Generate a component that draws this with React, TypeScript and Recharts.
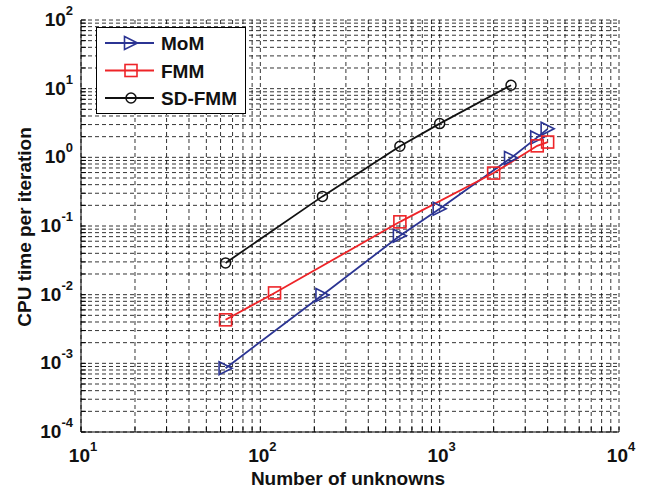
import { LineChart, Line, XAxis, YAxis, CartesianGrid, Legend } from 'recharts'

// CPU time per iteration vs number of unknowns
const MOM = [
  { x: 64, y: 0.00085 },
  { x: 222, y: 0.0099 },
  { x: 600, y: 0.072 },
  { x: 1000, y: 0.178 },
  { x: 2500, y: 0.98 },
  { x: 3500, y: 1.95 },
  { x: 4000, y: 2.6 },
]
const FMM = [
  { x: 64, y: 0.0043 },
  { x: 120, y: 0.0106 },
  { x: 600, y: 0.115 },
  { x: 2000, y: 0.59 },
  { x: 3500, y: 1.47 },
  { x: 4000, y: 1.67 },
]
const SD_FMM = [
  { x: 64, y: 0.029 },
  { x: 222, y: 0.27 },
  { x: 600, y: 1.45 },
  { x: 1000, y: 3.1 },
  { x: 2500, y: 11.2 },
]

const X_DECADES = [10, 100, 1000, 10000]
const Y_DECADES = [1e-4, 1e-3, 1e-2, 1e-1, 1, 10, 100]
const MINOR_STEPS = [1, 2, 3, 4, 5, 6, 7, 8, 9]

const FONT = '"Liberation Sans", Arial, Helvetica, sans-serif'
const BLUE = '#2b3493'
const RED = '#ee2428'
const BLACK = '#111111'

function withMinor(decades: number[]) {
  const out: number[] = []
  decades.forEach((d, i) => {
    if (i === decades.length - 1) {
      out.push(d)
      return
    }
    MINOR_STEPS.forEach((m) => out.push(Number((d * m).toPrecision(6))))
  })
  return out
}

const X_TICKS = withMinor(X_DECADES)
const Y_TICKS = withMinor(Y_DECADES)

function decadeExp(v: number) {
  const l = Math.log10(v)
  const e = Math.round(l)
  return Math.abs(l - e) < 1e-6 ? e : null
}

function XTick({ x, y, payload }: any) {
  const e = decadeExp(payload.value)
  if (e === null) return <g />
  return (
    <text x={x + 2} y={y + 33} textAnchor="middle" fontFamily={FONT} fontWeight="bold" fontSize={19} fill="#111">
      10<tspan dy={-11} fontSize={13}>{e}</tspan>
    </text>
  )
}

function YTick({ x, y, payload }: any) {
  const e = decadeExp(payload.value)
  if (e === null) return <g />
  return (
    <text x={x - 11} y={y + 6} textAnchor="end" fontFamily={FONT} fontWeight="bold" fontSize={19} fill="#111">
      10<tspan dy={-11} fontSize={13}>{e}</tspan>
    </text>
  )
}

function EmptyTick() {
  return <g />
}

function Marker({ shape, cx, cy, color }: { shape: string; cx: number; cy: number; color: string }) {
  if (shape === 'tri') {
    const s = 6.5
    return <polygon points={`${cx - s},${cy - s} ${cx + s},${cy} ${cx - s},${cy + s}`} fill="none" stroke={color} strokeWidth={1.6} />
  }
  if (shape === 'square') {
    const s = 6
    return <rect x={cx - s} y={cy - s} width={2 * s} height={2 * s} fill="none" stroke={color} strokeWidth={1.6} />
  }
  return <circle cx={cx} cy={cy} r={5} fill="none" stroke={color} strokeWidth={1.5} />
}

const SERIES = [
  { name: 'MoM', data: MOM, color: BLUE, shape: 'tri' },
  { name: 'FMM', data: FMM, color: RED, shape: 'square' },
  { name: 'SD-FMM', data: SD_FMM, color: BLACK, shape: 'circle' },
]

function LegendBox() {
  return (
    <svg width={150} height={87} style={{ display: 'block' }}>
      <rect x={0.5} y={0.5} width={149} height={86} fill="#fff" stroke="#000" strokeWidth={1} />
      {SERIES.map((s, i) => {
        const cy = 16 + i * 27.5
        return (
          <g key={s.name}>
            <line x1={9} x2={58} y1={cy} y2={cy} stroke={s.color} strokeWidth={2} />
            <Marker shape={s.shape} cx={35} cy={cy} color={s.color} />
            <text x={65} y={cy + 7} fontFamily={FONT} fontWeight="bold" fontSize={19} fill="#111">
              {s.name}
            </text>
          </g>
        )
      })}
    </svg>
  )
}

export default function App() {
  return (
    <div style={{ position: 'absolute', left: 0, top: 0, background: '#fff' }}>
      <LineChart width={645} height={493} margin={{ top: 20, right: 26, left: 21, bottom: 21 }}>
        <CartesianGrid stroke="#000" strokeWidth={0.8} strokeDasharray="4 3" />
        <XAxis
          dataKey="x"
          type="number"
          scale="log"
          domain={[10, 10000]}
          ticks={X_TICKS}
          interval={0}
          allowDataOverflow
          height={40}
          tickSize={-5}
          tickMargin={2}
          tick={XTick}
          axisLine={{ stroke: '#000' }}
          tickLine={{ stroke: '#000' }}
          label={{
            content: () => (
              <text x={348} y={485} textAnchor="middle" fontFamily={FONT} fontWeight="bold" fontSize={19} fill="#111">
                Number of unknowns
              </text>
            ),
          }}
        />
        <XAxis
          xAxisId="top"
          orientation="top"
          dataKey="x"
          type="number"
          scale="log"
          domain={[10, 10000]}
          ticks={X_TICKS}
          interval={0}
          allowDataOverflow
          height={0}
          mirror
          tickSize={5}
          tick={EmptyTick}
          axisLine={{ stroke: '#000' }}
          tickLine={{ stroke: '#000' }}
        />
        <YAxis
          type="number"
          scale="log"
          domain={[1e-4, 100]}
          ticks={Y_TICKS}
          interval={0}
          allowDataOverflow
          width={60}
          tickSize={-5}
          tickMargin={2}
          tick={YTick}
          axisLine={{ stroke: '#000' }}
          tickLine={{ stroke: '#000' }}
          label={{
            content: () => (
              <text
                x={31}
                y={227}
                textAnchor="middle"
                transform="rotate(-90, 31, 227)"
                fontFamily={FONT}
                fontWeight="bold"
                fontSize={19}
                fill="#111"
              >
                CPU time per iteration
              </text>
            ),
          }}
        />
        <YAxis
          yAxisId="right"
          orientation="right"
          type="number"
          scale="log"
          domain={[1e-4, 100]}
          ticks={Y_TICKS}
          interval={0}
          allowDataOverflow
          width={0}
          mirror
          tickSize={5}
          tick={EmptyTick}
          axisLine={{ stroke: '#000' }}
          tickLine={{ stroke: '#000' }}
        />
        <Legend
          layout="horizontal"
          verticalAlign="middle"
          align="center"
          wrapperStyle={{ top: 27, left: 96, width: 150, height: 87 }}
          content={LegendBox}
        />
        {SERIES.map((s) => (
          <Line
            key={s.name}
            data={s.data}
            dataKey="y"
            name={s.name}
            stroke={s.color}
            strokeWidth={1.8}
            isAnimationActive={false}
            dot={(p: any) => <Marker key={`${s.name}-${p.index}`} shape={s.shape} cx={p.cx} cy={p.cy} color={s.color} />}
            activeDot={false}
          />
        ))}
      </LineChart>
    </div>
  )
}
